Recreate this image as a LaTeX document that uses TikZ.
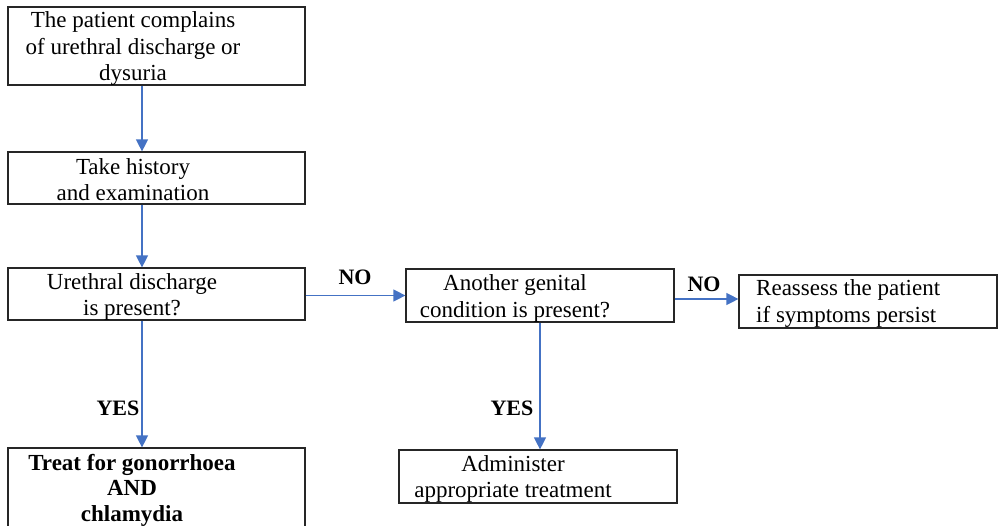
\documentclass[tikz,border=0pt]{standalone}
\usepackage{fontspec}
\setmainfont{Liberation Serif}
\usetikzlibrary{arrows.meta}
\definecolor{flowblue}{HTML}{4472C4}
\definecolor{boxline}{HTML}{262626}
\begin{document}
\begin{tikzpicture}[x=1pt,y=-1pt,
  box/.style={draw=boxline,line width=1.2pt,rectangle,inner sep=0pt},
  txt/.style={align=center,inner sep=0pt,font=\fontsize{23}{26.5}\selectfont},
  lbl/.style={inner sep=0pt,font=\fontsize{22}{26}\selectfont\bfseries},
  arrow/.style={draw=flowblue,line width=1.2pt,-{Triangle[width=12pt,length=12pt]}}]
\useasboundingbox (0,0) rectangle (998,525);
\fill[white] (0,0) rectangle (998,525);

% boxes
\node[box,minimum width=297pt,minimum height=78pt] (b1) at (156.5,46) {};
\node[box,minimum width=297pt,minimum height=52pt] (b2) at (156.5,178) {};
\node[box,minimum width=297pt,minimum height=52pt] (b3) at (156.5,294) {};
\node[box,minimum width=268pt,minimum height=53pt] (b4) at (540,295.5) {};
\node[box,minimum width=258pt,minimum height=53pt] (b5) at (868,301.5) {};
\node[box,minimum width=297pt,minimum height=97pt] (b6) at (156.5,496.5) {};
\node[box,minimum width=278pt,minimum height=53pt] (b7) at (538,476.5) {};

% box texts
\node[txt] (t1) at (133,49) {The patient complains\\of urethral discharge or\\dysuria};
\node[txt] (t2) at (133,179.5) {Take history\\and examination};
\node[txt] (t3) at (132,297) {Urethral discharge\\is present?};
\node[txt] (t4) at (515,298.5) {Another genital\\condition is present?};
\node[txt,align=left,anchor=west] (t5) at (756,303.5) {Reassess the patient\\if symptoms persist};
\node[txt,font=\fontsize{23}{25.5}\selectfont\bfseries] (t6) at (132,490) {Treat for gonorrhoea\\AND\\chlamydia};
\node[txt] (t7) at (513,479) {Administer\\appropriate treatment};

% connectors
\draw[arrow] ([xshift=-14.5pt]b1.south) -- ([xshift=-14.5pt]b2.north);
\draw[arrow] ([xshift=-14.5pt]b2.south) -- ([xshift=-14.5pt]b3.north);
\draw[arrow] ([xshift=-14.5pt]b3.south) -- ([xshift=-14.5pt]b6.north);
\draw[arrow] (b3.east |- b4.west) -- (b4.west);
\draw[arrow] ([yshift=-3.5pt]b4.east) -- ([yshift=-3.5pt]b4.east -| b5.west);
\draw[arrow] (b4.south) -- (b4.south |- b7.north);

% branch labels
\node[lbl] (no1) at (355,277) {NO};
\node[lbl] (no2) at (704,284) {NO};
\node[lbl] (yes1) at (118,408) {YES};
\node[lbl] (yes2) at (512,408) {YES};
\end{tikzpicture}
\end{document}
